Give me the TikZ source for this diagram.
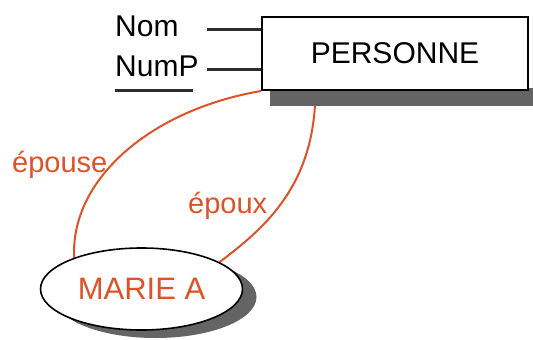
\documentclass[tikz,border=0pt]{standalone}
\usepackage{fontspec}
\setmainfont{Liberation Sans}
\usetikzlibrary{shapes.geometric,shadows}
\definecolor{rouge}{RGB}{222,82,40}
\definecolor{ombre}{RGB}{100,100,100}
\definecolor{trait}{RGB}{45,45,45}
\pgfdeclarelayer{background}
\pgfsetlayers{background,main}
\begin{document}
\begin{tikzpicture}[x=1pt,y=-1pt,
  txt/.style={font=\fontsize{30}{30}\selectfont, inner sep=0pt, anchor=base west},
  lbl/.style={font=\fontsize{29}{29}\selectfont, inner sep=0pt, anchor=base west, text=rouge},
  entite/.style={draw=black, line width=2pt, fill=white, minimum width=266pt, minimum height=73pt,
     font=\fontsize{30}{30}\selectfont, inner sep=0pt},
  assoc/.style={ellipse, draw=black, line width=1.6pt, fill=white, minimum width=202pt, minimum height=82pt,
     font=\fontsize{31}{31}\selectfont, text=rouge, inner sep=0pt,
     drop shadow={shadow xshift=14pt, shadow yshift=-8pt, fill=ombre, opacity=1}},
  attr/.style={draw=trait, line width=3pt},
  lien/.style={draw=rouge, line width=2pt}]
\useasboundingbox (0,0) rectangle (533,340);
\node[entite] (pers) at (395,53.5) {PERSONNE};
\node[assoc] (marie) at (141.5,289) {MARIE A};
\node[txt] (nom) at (115,36) {Nom};
\node[txt] (nump) at (115,76) {NumP};
\coordinate (nomE) at (207,29);
\coordinate (numpE) at (207,69);
\coordinate (ulA) at (115,90);
\coordinate (ulB) at (193,90);
\draw[attr] (nomE) -- (nomE -| pers.west);
\draw[attr] (numpE) -- (numpE -| pers.west);
\draw[attr] (ulA) -- (ulB);
\coordinate (epxStart) at (315,105);
\begin{pgfonlayer}{background}
\draw[lien] (pers.south west) .. controls (150,110) and (70,180) .. (marie.155);
\draw[lien] (epxStart) .. controls (310,190) and (262,230) .. (marie.19);
\fill[ombre] ([shift={(9,-3)}]pers.south west) rectangle ([shift={(6,15)}]pers.south east);
\end{pgfonlayer}
\node[lbl] (epouse) at (12,172) {épouse};
\node[lbl] (epoux) at (188,213) {époux};
\end{tikzpicture}
\end{document}
